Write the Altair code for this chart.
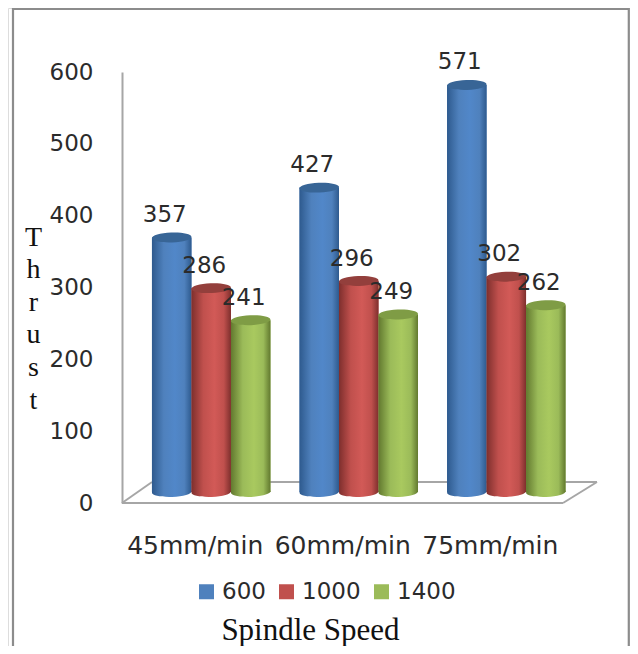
import altair as alt
import pandas as pd

categories = ["45mm/min", "60mm/min", "75mm/min"]
series = ["600", "1000", "1400"]
values = {
    "600": [357, 427, 571],
    "1000": [286, 296, 302],
    "1400": [241, 249, 262],
}
axis_ticks = [0, 100, 200, 300, 400, 500, 600]
solid = ["#4F81BD", "#C0504D", "#9BBB59"]
edge = {"600": "#2E5A8E", "1000": "#7E2F2D", "1400": "#62792F"}
mid = {"600": "#5187C9", "1000": "#D25A57", "1400": "#A9C95F"}
cap = {"600": "#386596", "1000": "#933F3C", "1400": "#7F9C45"}

rows = [
    {"cat": c, "series": s, "value": values[s][i]}
    for s in series
    for i, c in enumerate(categories)
]
df = pd.DataFrame(rows)
ticks_df = pd.DataFrame({"tick": axis_ticks})

W, H = 622, 638
OX, OY = 8, 8
FONT = "DejaVu Sans"
SERIF = "Liberation Serif"
TXT = "#2b2b2b"
ELLIPSE = "M -1 0.04 A 1 0.25 -2 1 1 1 -0.04 A 1 0.25 -2 1 1 -1 0.04 Z"
CAP_SIZE = 39.5 ** 2

x_scale = alt.Scale(
    domain=categories,
    range=[137.5 - OX, 580 - OX],
    paddingInner=0.197,
    paddingOuter=0.098,
)
xo_scale = alt.Scale(domain=series, paddingInner=0, paddingOuter=0)
y_back = alt.Scale(domain=[0, 600], range=[492 - OY, 64.3 - OY])
y_front = alt.Scale(domain=[0, 600], range=[503 - OY, 72 - OY])

X = alt.X(
    "cat:N",
    scale=x_scale,
    title="Spindle Speed",
    axis=alt.Axis(
        domain=False,
        ticks=False,
        labelAngle=0,
        labelFont=FONT,
        labelFontSize=25,
        labelColor=TXT,
        labelPadding=30,
        labelOffset=-16,
        offset=-(H + OY - 503),
        titleFont=SERIF,
        titleFontSize=31,
        titleFontWeight="normal",
        titleColor="#111111",
        titleX=310 - OX,
        titleY=112,
        titleAlign="center",
    ),
)
XO = alt.XOffset("series:N", scale=xo_scale)
Y = alt.Y("value:Q", scale=y_back, axis=None)


def seg(x1, y1, x2, y2, color="#A6A6A6", width=2):
    return alt.Chart(ticks_df.head(1)).mark_rule(color=color, strokeWidth=width).encode(
        x=alt.value(x1 - OX), y=alt.value(y1 - OY),
        x2=alt.value(x2 - OX), y2=alt.value(y2 - OY),
    )


RIGHT = 628.8
frame = [
    seg(13, 8.8, RIGHT, 8.8, "#8C8C8C", 2.4),
    seg(13, 8, 13, 654, "#8C8C8C", 2.2),
    seg(RIGHT, 8, RIGHT, 654, "#8C8C8C", 2.2),
]
floor = [
    seg(122, 503, 563, 503),
    seg(122, 503, 152, 482),
    seg(563, 503, 597, 482),
    seg(152, 482, 597, 482),
]

axis_layer = alt.Chart(ticks_df).mark_point(opacity=0).encode(
    y=alt.Y(
        "tick:Q",
        scale=y_front,
        title=["T", "h", "r", "u", "s", "t"],
        axis=alt.Axis(
            values=axis_ticks,
            grid=False,
            ticks=False,
            domainColor="#A6A6A6",
            domainWidth=2,
            labelFont=FONT,
            labelFontSize=23,
            labelColor=TXT,
            labelPadding=29,
            offset=-(122 - OX),
            titleFont=SERIF,
            titleFontSize=28,
            titleFontWeight="normal",
            titleColor="#111111",
            titleAngle=0,
            titleAlign="center",
            titleBaseline="top",
            titleLineHeight=32.6,
            titleX=33 - 122,
            titleY=223 - OY,
        ),
    ),
)

legend_layer = alt.Chart(df).mark_bar().encode(
    x=X,
    xOffset=XO,
    y=Y,
    color=alt.Color(
        "series:N",
        scale=alt.Scale(domain=series, range=solid),
        legend=alt.Legend(
            title=None,
            orient="none",
            direction="horizontal",
            legendX=195 - OX,
            legendY=580 - OY,
            symbolType="square",
            symbolSize=225,
            symbolStrokeWidth=0,
            labelFont=FONT,
            labelFontSize=23,
            labelColor=TXT,
            labelOffset=4,
            columnPadding=9,
        ),
    ),
)


def grad(s):
    return alt.Gradient(
        gradient="linear",
        x1=0, x2=1, y1=0, y2=0,
        stops=[
            alt.GradientStop(offset=0, color=edge[s]),
            alt.GradientStop(offset=0.3, color=solid[series.index(s)]),
            alt.GradientStop(offset=0.58, color=mid[s]),
            alt.GradientStop(offset=0.82, color=solid[series.index(s)]),
            alt.GradientStop(offset=1, color=edge[s]),
        ],
    )


cylinders = []
for s in series:
    d = alt.Chart(df[df["series"] == s])
    cylinders.append(
        d.transform_calculate(base="0").mark_point(
            shape=ELLIPSE, size=CAP_SIZE, filled=True, opacity=1, fill=grad(s)
        ).encode(x=X, xOffset=XO, y=alt.Y("base:Q", scale=y_back, axis=None))
    )
    cylinders.append(d.mark_bar(fill=grad(s), opacity=1).encode(x=X, xOffset=XO, y=Y))
    cylinders.append(
        d.mark_point(shape=ELLIPSE, size=CAP_SIZE, filled=True, opacity=1, fill=cap[s]).encode(
            x=X, xOffset=XO, y=Y
        )
    )

labels = alt.Chart(df).mark_text(
    font=FONT, fontSize=23, color=TXT, baseline="bottom", dx=-7, dy=-10.5
).encode(x=X, xOffset=XO, y=Y, text="value:Q")

chart = alt.layer(
    *frame, *floor, axis_layer, legend_layer, *cylinders, labels
).resolve_scale(y="independent").properties(
    width=W, height=H, padding=0, autosize=alt.AutoSizeParams(type="none")
).configure_view(stroke=None).configure(background="white")

chart.save("out.html", embed_options={"renderer": "svg", "actions": False})
